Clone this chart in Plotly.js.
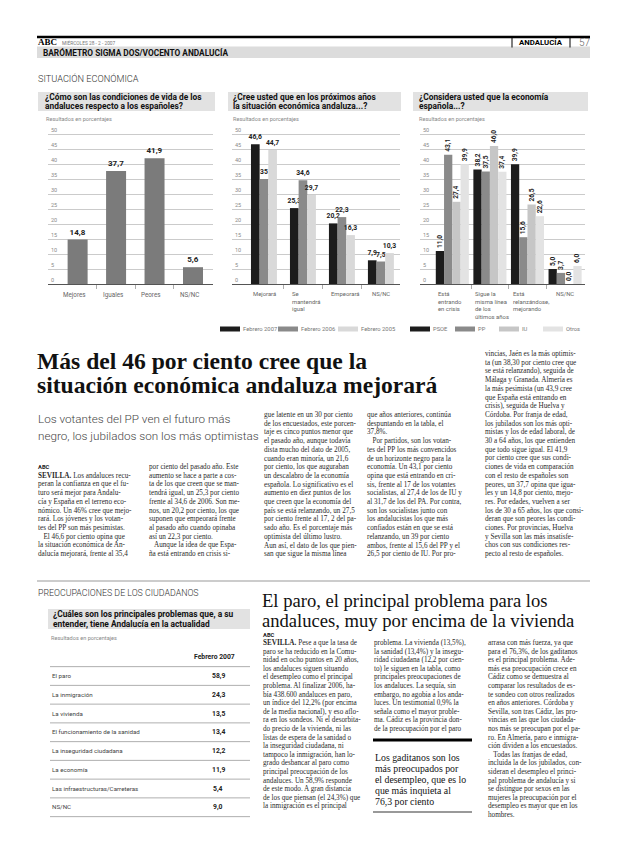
<!DOCTYPE html>
<html><head><meta charset="utf-8">
<script src="https://cdn.plot.ly/plotly-3.0.1.min.js"></script>
<style>html,body{margin:0;padding:0;background:#fff}#chart{width:620px;height:847px}</style>
</head><body><div id="chart"></div>
<script>
// ---------------- DATA ----------------
const cats1 = ['Mejores','Iguales','Peores','NS/NC'];
const vals1 = [14.8, 37.7, 41.9, 5.6];

const cats2 = ['Mejorará','Se<br>mantendrá<br>igual','Empeorará','NS/NC'];
const names2 = ['Febrero 2007','Febrero 2006','Febrero 2005'];
const feb2007 = [46.6, 25.3, 20.2, 7.9];
const feb2006 = [35, 34.6, 22.3, 7.5];
const feb2005 = [44.7, 29.7, 16.3, 10.3];

const cats3 = ['Está<br>entrando<br>en crisis','Sigue la<br>misma línea<br>de los<br>últimos años','Está<br>relanzándose,<br>mejorando','NS/NC'];
const names3 = ['PSOE','PP','IU','Otros'];
const psoe  = [11.0, 38.2, 39.9, 5.0];
const pp    = [43.1, 37.5, 15.6, 3.7];
const iu    = [27.4, 46.0, 26.5, 0.0];
const otros = [39.9, 37.4, 22.6, 6.0];

const yTicks = [0,5,10,15,20,25,30,35,40,45,50];

const problems = ['El paro','La inmigración','La vivienda','El funcionamiento de la sanidad','La inseguridad ciudadana','La economía','Las infraestructuras/Carreteras','NS/NC'];
const problemVals = [58.9, 24.3, 13.5, 13.4, 12.2, 11.9, 5.4, 9.0];

// ---------------- HELPERS ----------------
const W = 620, H = 847;
const px = x => x / W;
const py = y => 1 - y / H;
const comma = v => v.toFixed(1).replace('.', ',');
const comma2 = v => Number.isInteger(v) ? String(v) : comma(v);
const SANS = 'Roboto, Liberation Sans, sans-serif';
const SERIF = 'Liberation Serif, Times New Roman, serif';

const annotations = [];
const shapes = [];
function ann(x, y, text, font, extra) {
  annotations.push(Object.assign({xref:'paper', yref:'paper', x:px(x), y:py(y), text:text,
    showarrow:false, xanchor:'left', yanchor:'middle', font:font, borderpad:0}, extra || {}));
}
function rect(x0,y0,x1,y1,fill){ shapes.push({type:'rect',xref:'paper',yref:'paper',x0:px(x0),x1:px(x1),y0:py(y0),y1:py(y1),fillcolor:fill,line:{width:0},layer:'below'}); }
function hline(x0,x1,y,color,w){ shapes.push({type:'line',xref:'paper',yref:'paper',x0:px(x0),x1:px(x1),y0:py(y),y1:py(y),line:{color:color,width:w}}); }
function vline(x,y0,y1,color,w){ shapes.push({type:'line',xref:'paper',yref:'paper',x0:px(x),x1:px(x),y0:py(y0),y1:py(y1),line:{color:color,width:w}}); }
function column(lines, x, y0, step, font) {
  lines.forEach((t,i) => ann(x, y0 + i*step, t, font));
}

// ---------------- TRACES ----------------
const traces = [];
traces.push({type:'bar', x:cats1.map((c,i)=>i), y:vals1, xaxis:'x', yaxis:'y', width:0.52,
  marker:{color:'#7b7b7b'}, text:vals1.map(comma), textposition:'outside', cliponaxis:false,
  constraintext:'none', textfont:{family:SANS, size:8, color:'#222', weight:'bold'}, hoverinfo:'skip'});

const cols2 = ['#1c1c1c','#8a8a8a','#d9d9d9'];
[feb2007, feb2006, feb2005].forEach((s,k) => {
  traces.push({type:'bar', name:names2[k], x:cats2.map((c,i)=>i), y:s, xaxis:'x2', yaxis:'y2',
    width:0.222, offset:-0.333 + k*0.222, marker:{color:cols2[k]}, text:s.map(comma2),
    textposition:'outside', cliponaxis:false, constraintext:'none',
    textfont:{family:SANS, size:6.8, color:'#222', weight:'bold'}, hoverinfo:'skip'});
});

const cols3 = ['#1c1c1c','#8a8a8a','#c6c6c6','#e3e3e3'];
[psoe, pp, iu, otros].forEach((s,k) => {
  traces.push({type:'bar', name:names3[k], x:cats3.map((c,i)=>i), y:s, xaxis:'x3', yaxis:'y3',
    width:0.22, offset:-0.44 + k*0.22, marker:{color:cols3[k]}, text:s.map(comma),
    textposition:'outside', textangle:-90, cliponaxis:false, constraintext:'none',
    textfont:{family:SANS, size:6.6, color:'#222', weight:'bold'}, hoverinfo:'skip'});
});

// ---------------- AXES ----------------
// 3 px per unit: 0 at y=284, 50 at y=134; range top extended so the "50" label fits inside
const yTop = 53;
const yDom = [py(284), py(284 - yTop*3)];
function yax(anchor){ return {domain:yDom, range:[0,yTop], tickvals:yTicks, showgrid:true, gridcolor:'#a8a8a8', gridwidth:0.6,
  zeroline:false, showline:false, ticks:'', ticklabelposition:'inside top', tickfont:{family:SANS,size:5.5,color:'#8a8a8a'},
  anchor:anchor, fixedrange:true}; }
function xax(d0,d1,r,anchor){ return {domain:[px(d0),px(d1)], range:r, showgrid:false, zeroline:false, showline:true,
  linecolor:'#555', linewidth:1, tickvals:[0.5,1.5,2.5], ticktext:['','',''], ticks:'outside', ticklen:4,
  tickcolor:'#999', tickwidth:0.8, anchor:anchor, fixedrange:true}; }

// ---------------- PAGE HEADER ----------------
hline(37, 590, 37, '#000', 2.5);
ann(37, 42.5, '<b>ABC</b>', {family:SERIF, size:9, color:'#000'});
ann(61, 42.5, 'MIÉRCOLES 28 - 2 - 2007', {family:SANS, size:4.8, color:'#777'});
vline(512, 37, 47.5, '#000', 1);
vline(570, 37, 47.5, '#000', 1);
ann(541, 42.5, '<b>ANDALUCÍA</b>', {family:SANS, size:7.8, color:'#000'}, {xanchor:'center'});
ann(578, 42.5, '57', {family:SANS, size:10, color:'#666', weight:300});
rect(37, 46.5, 590, 58, '#dcdcdc');
ann(42, 52.5, '<b>BARÓMETRO SIGMA DOS/VOCENTO ANDALUCÍA</b>', {family:SANS, size:8.3, color:'#111'});
ann(37, 78, 'SITUACIÓN ECONÓMICA', {family:SANS, size:9.2, color:'#333', weight:300});

// chart header boxes
const titleFont = {family:SANS, size:8.4, color:'#111', weight:'bold'};
const subFont = {family:SANS, size:5.6, color:'#888'};
rect(38, 92, 215, 111, '#e2e2e2');
ann(44, 97, '¿Cómo son las condiciones de vida de los', titleFont);
ann(44, 106.5, 'andaluces respecto a los españoles?', titleFont);
ann(45, 118.5, 'Resultados en porcentajes', subFont);
rect(228, 92, 401, 111, '#e2e2e2');
ann(232, 97, '¿Cree usted que en los próximos años', titleFont);
ann(232, 106.5, 'la situación económica andaluza...?', titleFont);
ann(232, 118.5, 'Resultados en porcentajes', subFont);
rect(413, 92, 588, 111, '#e2e2e2');
ann(418, 97, '¿Considera usted que la economía', titleFont);
ann(418, 106.5, 'española...?', titleFont);
ann(418, 118.5, 'Resultados en porcentajes', subFont);

// category labels (through axes)
const catFont1 = {family:SANS, size:6.3, color:'#666'};
const catFont = {family:SANS, size:5.9, color:'#666'};
cats1.forEach((c,i) => annotations.push({xref:'x', yref:'paper', x:i-0.08, y:py(288.5), text:c, showarrow:false,
  xanchor:'center', yanchor:'top', font:catFont1}));
cats2.forEach((c,i) => annotations.push({xref:'x2', yref:'paper', x: i===3 ? i : i-0.333, y:py(288.5), text:c, showarrow:false,
  xanchor: i===3 ? 'center' : 'left', align:'left', yanchor:'top', font:catFont}));
cats3.forEach((c,i) => annotations.push({xref:'x3', yref:'paper', x: i===3 ? i : i-0.44, y:py(288.5), text:c, showarrow:false,
  xanchor: i===3 ? 'center' : 'left', align:'left', yanchor:'top', font:catFont}));

// legends
const legFont = {family:SANS, size:5.8, color:'#777'};
const leg2x = [220, 278, 338];
names2.forEach((n,k) => { rect(leg2x[k], 326.5, leg2x[k]+20, 331.5, cols2[k]); ann(leg2x[k]+22, 329, n, legFont); });
const leg3x = [410, 455, 499, 543];
names3.forEach((n,k) => { rect(leg3x[k], 326.5, leg3x[k]+20, 331.5, cols3[k]); ann(leg3x[k]+22, 329, n, legFont); });

// ---------------- ARTICLE 1 ----------------
const hFont1 = {family:SERIF, size:23.6, color:'#111', weight:'bold'};
ann(36, 361, 'Más del 46 por ciento cree que la', hFont1);
ann(36, 385, 'situación económica andaluza mejorará', hFont1);
const subHead = {family:SANS, size:11.7, color:'#444', weight:300};
ann(37, 419, 'Los votantes del PP ven el futuro más', subHead);
ann(37, 436, 'negro, los jubilados son los más optimistas', subHead);

const body = {family:SERIF, size:7.2, color:'#2a2a2a'};
const S = 8.7;
ann(37, 467, '<b>ABC</b>', {family:SANS, size:5.8, color:'#222'});
column(['<b>SEVILLA.</b> Los andaluces recu-','peran la confianza en que el fu-','turo será mejor para Andalu-','cía y España en el terreno eco-','nómico. Un 46% cree que mejo-','rará. Los jóvenes y los votan-','tes del PP son más pesimistas.','   El 46,6 por ciento opina que','la situación económica de An-','dalucía mejorará, frente al 35,4'], 37, 467+S, S, body);
column(['por ciento del pasado año. Este','aumento se hace a parte a cos-','ta de los que creen que se man-','tendrá igual, un 25,3 por ciento','frente al 34,6 de 2006. Son me-','nos, un 20,2 por ciento, los que','suponen que empeorará frente','al pasado año cuando opinaba','así un 22,3 por ciento.','   Aunque la idea de que Espa-','ña está entrando en crisis si-'], 148, 467, S, body);
column(['gue latente en un 30 por ciento','de los encuestados, este porcen-','taje es cinco puntos menor que','el pasado año, aunque todavía','dista mucho del dato de 2005,','cuando eran minoría, un 21,6','por ciento, los que auguraban','un descalabro de la economía','española. Lo significativo es el','aumento en diez puntos de los','que creen que la economía del','país se está relanzando, un 27,5','por ciento frente al 17, 2 del pa-','sado año. Es el porcentaje más','optimista del último lustro.','Aun así, el dato de los que pien-','san que sigue la misma línea'], 263, 415, S, body);
column(['que años anteriores, continúa','despuntando en la tabla, el','37,8%.','   Por partidos, son los votan-','tes del PP los más convencidos','de un horizonte negro para la','economía. Un 43,1 por ciento','opina que está entrando en cri-','sis, frente al 17 de los votantes','socialistas, al 27,4 de los de IU y','al 31,7 de los del PA. Por contra,','son los socialistas junto con','los andalucistas los que más','confiados están en que se está','relanzando, un 39 por ciento','ambos, frente al 15,6 del PP y el','26,5 por ciento de IU. Por pro-'], 366, 415, S, body);
column(['vincias, Jaén es la más optimis-','ta (un 38,30 por ciento cree que','se está relanzando), seguida de','Málaga y Granada. Almería es','la más pesimista (un 43,9 cree','que España está entrando en','crisis), seguida de Huelva y','Córdoba. Por franja de edad,','los jubilados son los más opti-','mistas y los de edad laboral, de','30 a 64 años, los que entienden','que todo sigue igual. El 41,9','por ciento cree que sus condi-','ciones de vida en comparación','con el resto de españoles son','peores, un 37,7 opina que igua-','les y un 14,8 por ciento, mejo-','res. Por edades, vuelven a ser','los de 30 a 65 años, los que consi-','deran que son peores las condi-','ciones. Por provincias, Huelva','y Sevilla son las más insatisfe-','chos con sus condiciones res-','pecto al resto de españoles.'], 484, 354, S, body);

hline(37, 590, 581, '#999', 1);

// ---------------- SECTION 2 ----------------
ann(37, 593, 'PREOCUPACIONES DE LOS CIUDADANOS', {family:SANS, size:8.8, color:'#333', weight:300});
rect(48, 609, 250, 629, '#e2e2e2');
ann(52, 614, '¿Cuáles son los principales problemas que, a su', titleFont);
ann(52, 623.5, 'entender, tiene Andalucía en la actualidad', titleFont);
ann(50, 637.5, 'Resultados en porcentajes', subFont);
ann(214, 657, '<b>Febrero 2007</b>', {family:SANS, size:6.8, color:'#222'}, {xanchor:'center'});
const rowH = 18.75, row0 = 676;
hline(50, 250, row0 - rowH/2, '#9a9a9a', 0.8);
problems.forEach((p,i) => {
  const yc = row0 + i*rowH;
  ann(51, yc, p, {family:SANS, size:6.2, color:'#444'});
  ann(218, yc, '<b>' + comma(problemVals[i]) + '</b>', {family:SANS, size:6.8, color:'#222'}, {xanchor:'center'});
  hline(50, 250, yc + rowH/2, '#9a9a9a', 0.8);
});

const hFont2 = {family:SERIF, size:18.6, color:'#111'};
ann(261, 600, 'El paro, el principal problema para los', hFont2);
ann(261, 620, 'andaluces, muy por encima de la vivienda', hFont2);
const S2 = 8.6, top2 = 643;
ann(262, top2 - 8.2, '<b>ABC</b>', {family:SANS, size:5.8, color:'#222'});
column(['<b>SEVILLA.</b> Pese a que la tasa de','paro se ha reducido en la Comu-','nidad en ocho puntos en 20 años,','los andaluces siguen situando','el desempleo como el principal','problema. Al finalizar 2006, ha-','bía 438.600 andaluces en paro,','un índice del 12,2% (por encima','de la media nacional), y eso aflo-','ra en los sondeos. Ni el desorbita-','do precio de la vivienda, ni las','listas de espera de la sanidad o','la inseguridad ciudadana, ni','tampoco la inmigración, han lo-','grado desbancar al paro como','principal preocupación de los','andaluces. Un 58,9% responde','de este modo. A gran distancia','de los que piensan (el 24,3%) que','la inmigración es el principal'], 262, top2, S2, body);
column(['problema. La vivienda (13,5%),','la sanidad (13,4%) y la insegu-','ridad ciudadana (12,2 por cien-','to) le siguen en la tabla, como','principales preocupaciones de','los andaluces. La sequía, sin','embargo, no agobia a los anda-','luces. Un testimonial 0,9% la','señala como el mayor proble-','ma. Cádiz es la provincia don-','de la preocupación por el paro'], 373, top2, S2, body);
column(['arrasa con más fuerza, ya que','para el 76,3%, de los gaditanos','es el principal problema. Ade-','más esa preocupación crece en','Cádiz como se demuestra al','comparar los resultados de es-','te sondeo con otros realizados','en años anteriores. Córdoba y','Sevilla, son tras Cádiz, las pro-','vincias en las que los ciudada-','nos más se preocupan por el pa-','ro. En Almería, paro e inmigra-','ción dividen a los encuestados.','   Todas las franjas de edad,','incluida la de los jubilados, con-','sideran el desempleo el princi-','pal problema de andalucía y si','se distingue por sexos en las','mujeres la preocupación por el','desempleo es mayor que en los','hombres.'], 487, top2, S2, body);

hline(373, 472, 740, '#000', 3);
column(['Los gaditanos son los','más preocupados por','el desempleo, que es lo','que más inquieta al','76,3 por ciento'], 374, 757, 11.2, {family:SERIF, size:9.8, color:'#111'});
hline(373, 472, 812, '#999', 2);

// ---------------- LAYOUT ----------------
const layout = {
  width: W, height: H, margin:{l:0,r:0,t:0,b:0}, paper_bgcolor:'#fff', plot_bgcolor:'rgba(0,0,0,0)',
  showlegend:false, barmode:'overlay', font:{family:SANS},
  xaxis: xax(48, 213, [-0.77, 3.52], 'y'),
  yaxis: yax('x'),
  xaxis2: xax(232, 400, [-0.82, 3.49], 'y2'),
  yaxis2: yax('x2'),
  xaxis3: xax(420, 585, [-0.86, 3.53], 'y3'),
  yaxis3: yax('x3'),
  annotations: annotations, shapes: shapes
};
Plotly.newPlot('chart', traces, layout, {staticPlot:true, displayModeBar:false});
</script></body></html>
